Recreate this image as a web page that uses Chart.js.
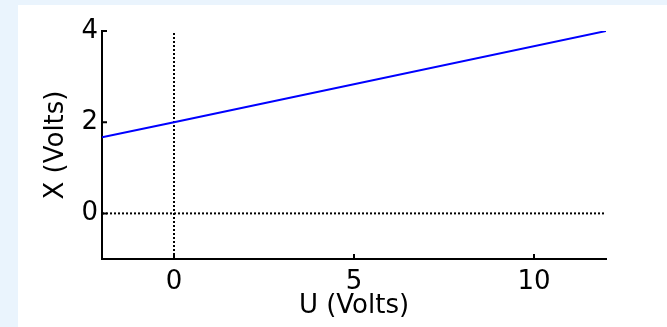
<!DOCTYPE html>
<html>
<head>
<meta charset="utf-8">
<script src="https://cdn.jsdelivr.net/npm/chart.js@4.4.0/dist/chart.umd.min.js"></script>
<style>
    html, body { margin: 0; padding: 0; background: #eaf4fd; overflow: hidden; }
    #panel { position: absolute; left: 18px; top: 5px; width: 649px; height: 322px; background: #fff; }
</style>
</head>
<body>
<div id="panel"><canvas id="chart" width="649" height="322"></canvas></div>
<script>
// Данные
const uValues = [-2, 0, 12];
const xValues = [1.67, 2, 4];
const uRange = [-2, 12];
const xRange = [-1, 4];
const uTicks = [0, 5, 10];
const xTicks = [0, 2, 4];

const FONT = 'DejaVu Sans, sans-serif';

// Засечки внутрь области графика
const innerTicks = {
    id: 'innerTicks',
    afterDatasetsDraw(chart) {
        const { ctx, chartArea, scales } = chart;
        ctx.save();
        ctx.strokeStyle = '#000';
        ctx.lineWidth = 2;
        ctx.beginPath();
        uTicks.forEach(v => {
            const px = scales.x.getPixelForValue(v);
            ctx.moveTo(px, chartArea.bottom);
            ctx.lineTo(px, chartArea.bottom - 5);
        });
        xTicks.forEach(v => {
            const py = scales.y.getPixelForValue(v);
            ctx.moveTo(chartArea.left, py);
            ctx.lineTo(chartArea.left + 5, py);
        });
        ctx.stroke();
        ctx.restore();
    }
};

new Chart(document.getElementById('chart'), {
    type: 'scatter',
    data: {
        datasets: [
            {
                data: [{ x: 0, y: xRange[0] }, { x: 0, y: xRange[1] }],
                showLine: true, borderColor: '#000', borderWidth: 2, borderDash: [2, 2],
                pointRadius: 0, order: 2
            },
            {
                data: [{ x: uRange[0], y: 0 }, { x: uRange[1], y: 0 }],
                showLine: true, borderColor: '#000', borderWidth: 2, borderDash: [2, 2],
                pointRadius: 0, order: 2
            },
            {
                data: uValues.map((u, i) => ({ x: u, y: xValues[i] })),
                showLine: true, borderColor: '#0000ff', borderWidth: 2,
                pointRadius: 0, order: 1
            }
        ]
    },
    options: {
        responsive: false,
        animation: false,
        devicePixelRatio: 1,
        layout: { padding: { top: 26, right: 61, left: 0, bottom: 0 } },
        plugins: { legend: { display: false }, tooltip: { enabled: false } },
        scales: {
            x: {
                type: 'linear',
                min: uRange[0], max: uRange[1],
                afterBuildTicks: s => { s.ticks = uTicks.map(v => ({ value: v })); },
                afterFit: s => { s.height = 68; },
                grid: { display: false, drawTicks: false },
                border: { display: true, color: '#000', width: 2 },
                ticks: { color: '#000', padding: 8, maxRotation: 0, font: { family: FONT, size: 26 } },
                title: { display: true, text: 'U (Volts)', color: '#000', padding: { top: 0, bottom: 5 }, font: { family: FONT, size: 26 } }
            },
            y: {
                type: 'linear',
                min: xRange[0], max: xRange[1],
                afterBuildTicks: s => { s.ticks = xTicks.map(v => ({ value: v })); },
                afterFit: s => { s.width = 84; },
                grid: { display: false, drawTicks: false },
                border: { display: true, color: '#000', width: 2 },
                ticks: { color: '#000', padding: 4, font: { family: FONT, size: 26 } },
                title: { display: true, text: 'X (Volts)', color: '#000', padding: { top: 23, bottom: 0 }, font: { family: FONT, size: 26 } }
            }
        }
    },
    plugins: [innerTicks]
});
</script>
</body>
</html>
